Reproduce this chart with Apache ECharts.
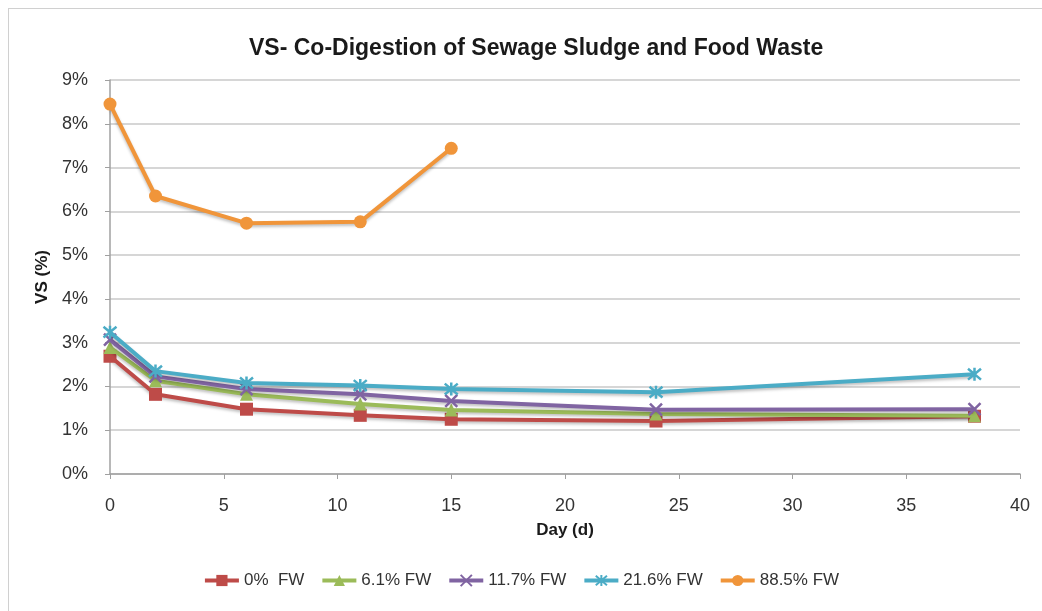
<!DOCTYPE html>
<html>
<head>
<meta charset="utf-8">
<script src="https://cdn.jsdelivr.net/npm/echarts@6/dist/echarts.min.js"></script>
<style>
html, body { margin: 0; padding: 0; background: #fff; }
#frame { position: absolute; left: 8px; top: 8px; width: 1060px; height: 620px; border: 1px solid #d0d0d0; }
#vs_chart { position: absolute; left: 0; top: 0; width: 1042px; height: 611px; }
</style>
</head>
<body>
<div id="frame"></div>
<div id="vs_chart"></div>
<script>
// days sampled
var days = [0, 2, 6, 11, 15, 24, 38];
var days_885 = [0, 2, 6, 11, 15];

// VS (%)
var fw_0 = [2.69, 1.82, 1.48, 1.34, 1.25, 1.21, 1.32];
var fw_61 = [2.89, 2.13, 1.82, 1.60, 1.46, 1.37, 1.33];
var fw_117 = [3.07, 2.23, 1.94, 1.82, 1.67, 1.47, 1.48];
var fw_216 = [3.24, 2.35, 2.08, 2.02, 1.94, 1.87, 2.28];
var fw_885 = [8.45, 6.35, 5.73, 5.76, 7.44];

var names = ['0%  FW', '6.1% FW', '11.7% FW', '21.6% FW', '88.5% FW'];
var colors = ['#BE4B48', '#9BBB59', '#8064A2', '#4BACC6', '#F0953A'];

var font = 'Liberation Sans';

function pairs(xs, ys) {
    var out = [];
    for (var i = 0; i < ys.length; i++) out.push([xs[i], ys[i]]);
    return out;
}

var cross = 'path://M0,0L10,10M10,0L0,10';
var star = 'path://M0,0L10,10M10,0L0,10M5,-1L5,11';

function line_series(i, data, symbol, size, stroke) {
    return {
        name: names[i],
        type: 'line',
        data: data,
        symbol: symbol,
        symbolSize: size,
        showAllSymbol: true,
        z: 2 + i,
        lineStyle: {
            color: colors[i],
            width: 4,
            shadowColor: 'rgba(0,0,0,0.25)',
            shadowBlur: 3,
            shadowOffsetY: 2
        },
        itemStyle: {
            color: colors[i],
            borderColor: colors[i],
            borderWidth: stroke ? 2.5 : 0
        }
    };
}

var chart = echarts.init(document.getElementById('vs_chart'));
chart.setOption({
    animation: false,
    color: colors,
    title: {
        text: 'VS- Co-Digestion of Sewage Sludge and Food Waste',
        left: 244,
        top: 32,
        textStyle: {
            fontFamily: font,
            fontSize: 23,
            fontWeight: 'bold',
            color: '#1a1a1a'
        }
    },
    legend: {
        bottom: 17,
        left: 'center',
        itemWidth: 34,
        itemHeight: 14,
        itemGap: 16,
        lineStyle: { width: 4, shadowBlur: 0 },
        textStyle: {
            fontFamily: font,
            fontSize: 17,
            color: '#333'
        },
        data: names
    },
    grid: {
        left: 110,
        right: 22,
        top: 80,
        bottom: 137
    },
    xAxis: {
        type: 'value',
        min: 0,
        max: 40,
        interval: 5,
        name: 'Day (d)',
        nameLocation: 'middle',
        nameGap: 48,
        nameTextStyle: {
            fontFamily: font,
            fontSize: 17,
            fontWeight: 'bold',
            color: '#1a1a1a'
        },
        axisLine: { lineStyle: { color: '#a0a0a0', width: 1.5 } },
        axisTick: { show: true, inside: false, length: 5, lineStyle: { color: '#a0a0a0' } },
        axisLabel: {
            fontFamily: font,
            fontSize: 18,
            color: '#333',
            margin: 23
        },
        splitLine: { show: false }
    },
    yAxis: {
        type: 'value',
        min: 0,
        max: 9,
        interval: 1,
        name: 'VS (%)',
        nameLocation: 'middle',
        nameGap: 56,
        nameTextStyle: {
            fontFamily: font,
            fontSize: 17,
            fontWeight: 'bold',
            color: '#1a1a1a'
        },
        axisLine: { show: true, lineStyle: { color: '#a0a0a0', width: 1.5 } },
        axisTick: { show: true, length: 5, lineStyle: { color: '#a0a0a0' } },
        axisLabel: {
            formatter: '{value}%',
            fontFamily: font,
            fontSize: 18,
            color: '#333',
            margin: 22
        },
        splitLine: { lineStyle: { color: '#c8c8c8', width: 1.5 } }
    },
    series: [
        line_series(0, pairs(days, fw_0), 'rect', 13, false),
        line_series(1, pairs(days, fw_61), 'triangle', 13, false),
        line_series(2, pairs(days, fw_117), cross, 12, true),
        line_series(3, pairs(days, fw_216), star, 13, true),
        line_series(4, pairs(days_885, fw_885), 'circle', 13, false)
    ]
});
</script>
</body>
</html>
